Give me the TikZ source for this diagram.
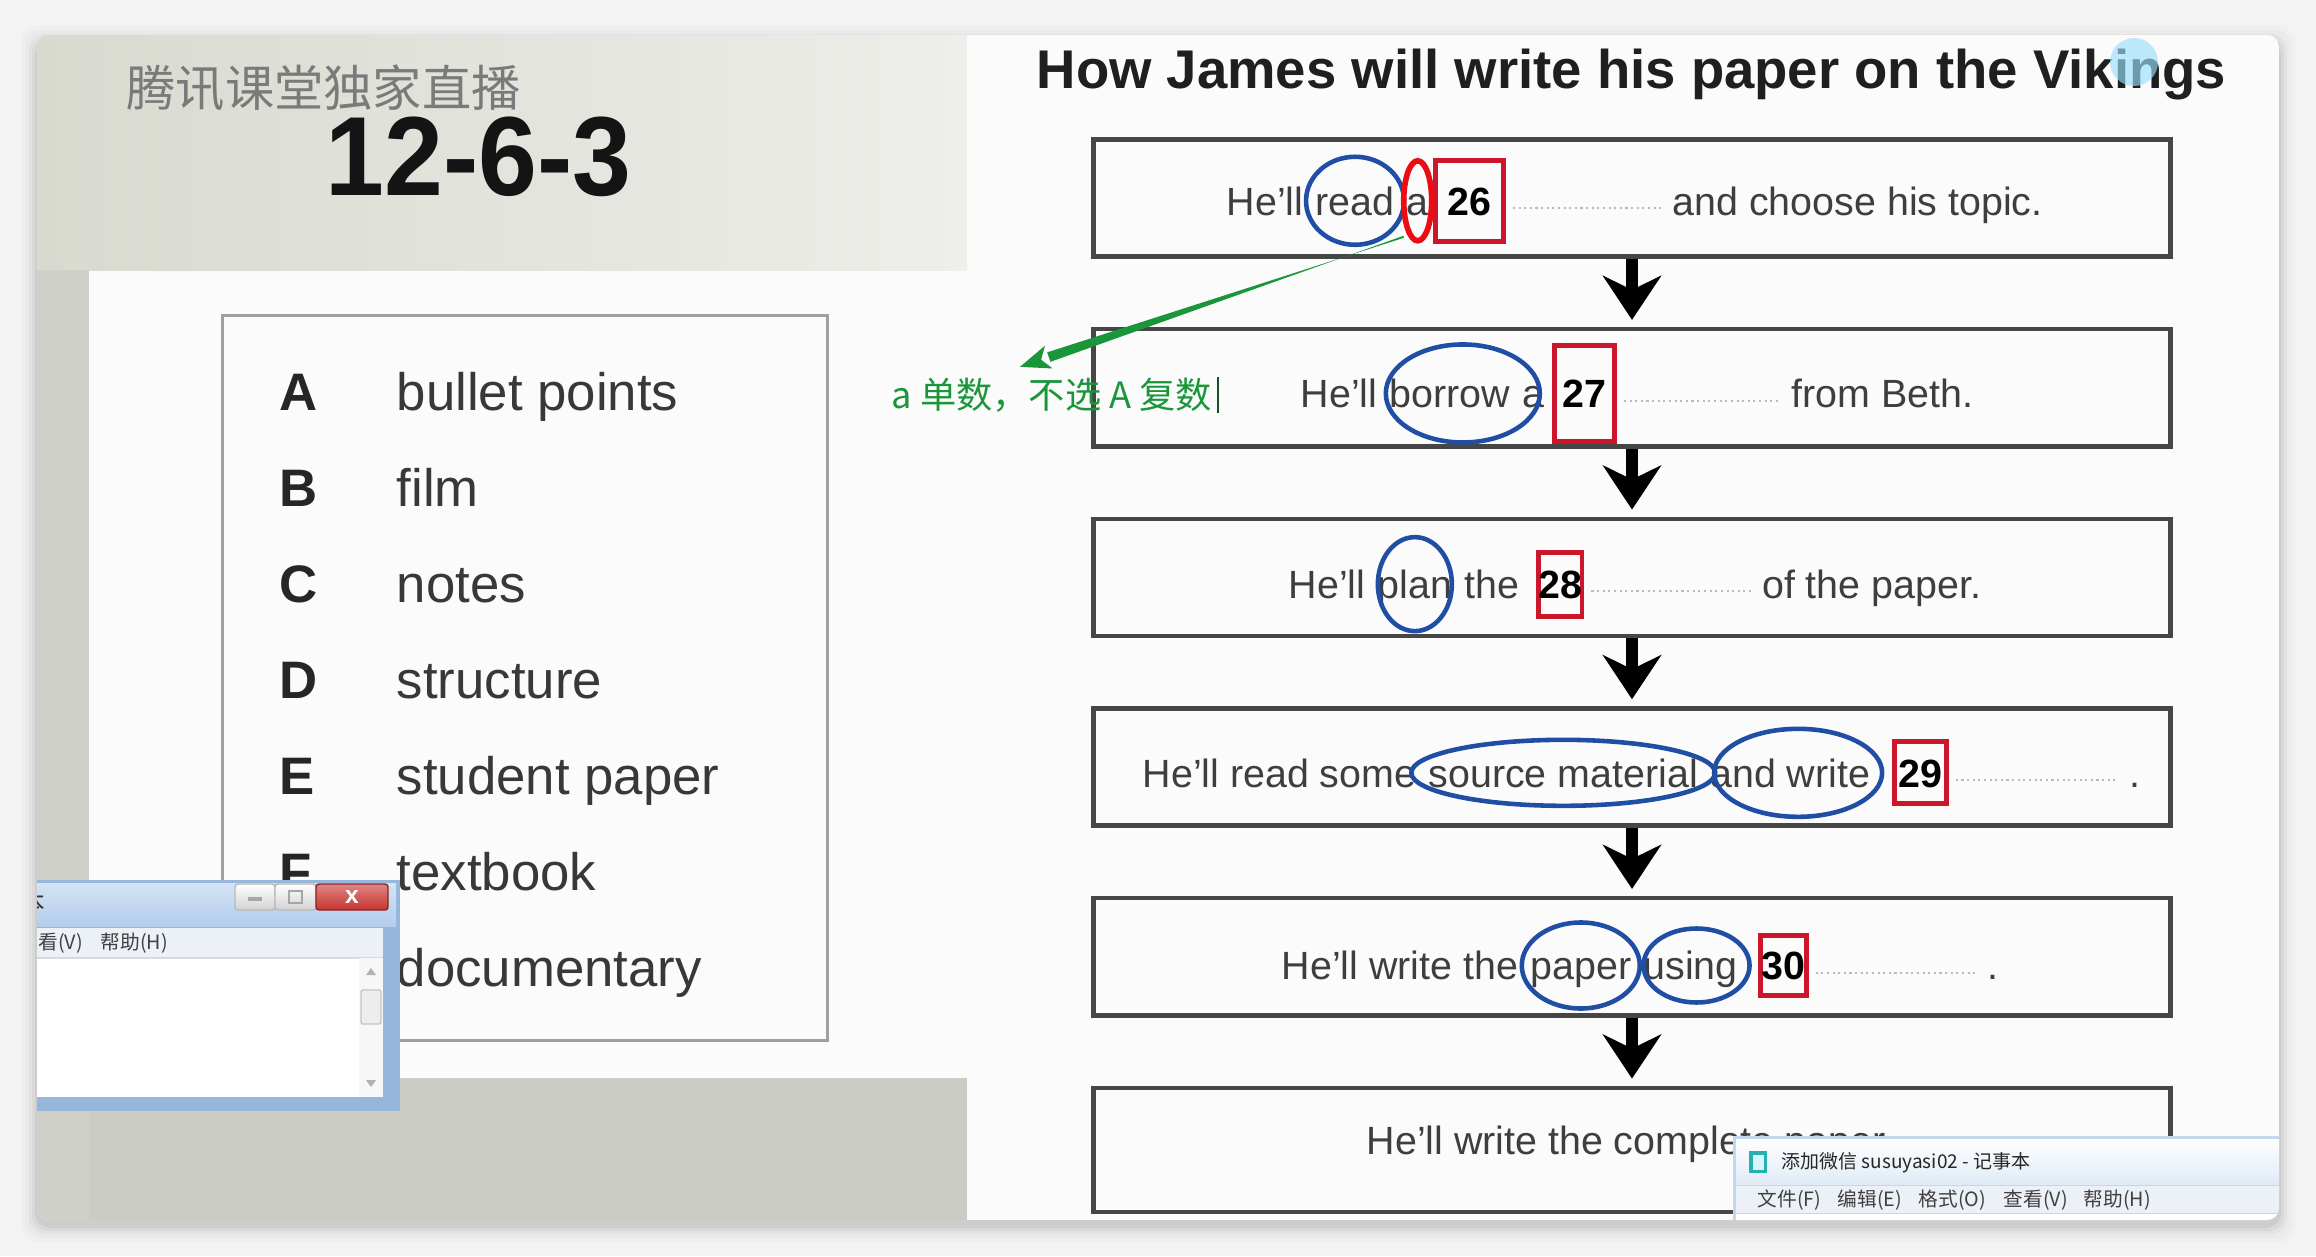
\documentclass[tikz,border=0pt]{standalone}
\usepackage{fontspec}
\setmainfont{Liberation Sans}
\newfontfamily\cjk{Noto Sans CJK SC}
\usetikzlibrary{arrows.meta,calc,positioning}

\definecolor{pagebg}{RGB}{243,243,243}
\definecolor{slidebg}{RGB}{251,251,252}
\definecolor{videogray}{RGB}{216,217,207}
\definecolor{videolight}{RGB}{238,238,234}
\definecolor{inkgray}{RGB}{62,62,62}
\definecolor{boxline}{RGB}{70,70,70}
\definecolor{ringblue}{RGB}{32,78,165}
\definecolor{markred}{RGB}{204,22,44}
\definecolor{brightred}{RGB}{235,12,20}
\definecolor{notegreen}{RGB}{26,150,58}
\definecolor{winblue}{RGB}{178,205,236}
\definecolor{winedge}{RGB}{150,182,220}
\definecolor{closered}{RGB}{200,52,48}
\definecolor{menubg}{RGB}{236,241,248}

\newcommand\flowfont{\fontsize{11.2}{13}\selectfont}
\newcommand\choicefont{\fontsize{15}{18}\selectfont}

\begin{document}
\begin{tikzpicture}[
    x=0.01cm, y=-0.01cm,
    flowbox/.style={draw=boxline, line width=1.3pt, minimum width=10.76cm,
        minimum height=1.17cm, inner sep=0pt},
    words/.style={inner sep=0pt, text height=8.1pt, text depth=0pt, text=inkgray, font=\flowfont},
    num/.style={draw=markred, line width=1.4pt, inner sep=0pt, text height=8.1pt,
        text depth=0pt, text=black, font=\flowfont\bfseries},
    ring/.style={draw=ringblue, line width=1.3pt},
    redring/.style={draw=brightred, line width=1.6pt},
    blank/.style={draw=gray!55, line width=0.6pt, densely dotted},
    flowarrow/.style={-{Stealth[length=0.44cm, width=0.58cm, inset=0.14cm]},
        line width=0.12cm, shorten >=0.07cm},
    letter/.style={anchor=base west, inner sep=0pt, font=\choicefont\bfseries, text=black!85},
    choice/.style={anchor=base west, inner sep=0pt, font=\choicefont, text=black!78},
    note/.style={inner sep=0pt, text=notegreen, font=\cjk\fontsize{10.3}{12}\selectfont},
    menutext/.style={inner sep=0pt, anchor=west, font=\cjk\fontsize{5.6}{7}\selectfont, text=black!75}
]

\useasboundingbox[fill=pagebg] (0,0) rectangle (2316,1256);

% soft shadow of the screenshot
\foreach \d/\o in {16/0.015, 12/0.02, 8/0.03, 5/0.04, 2/0.05}
    \fill[black, opacity=\o, rounded corners=0.16cm] ({37-\d},{42-\d}) rectangle ({2279+\d},{1226+\d});

\begin{scope}
\clip[rounded corners=0.12cm] (37,35) rectangle (2279,1220);
\fill[slidebg] (37,35) rectangle (2279,1220);
\shade[left color=videogray, right color=videolight] (37,35) rectangle (967,270);
\fill[videogray!96!black] (37,270) rectangle (89,1220);
\fill[videogray!94!black] (89,1078) rectangle (967,1220);

% left slide
\node[anchor=base west, inner sep=0pt, text=black!52, font=\cjk\fontsize{14}{16}\selectfont]
    (brand) at (126,106) {腾讯课堂独家直播};
\node[anchor=base west, inner sep=0pt, text=black!92, font=\fontsize{32}{36}\selectfont\bfseries]
    (code) at (325,195) {\scalebox{0.94}[1]{12-6-3}};

\node[draw=gray!75, line width=0.9pt, minimum width=6.04cm, minimum height=7.24cm, inner sep=0pt]
    (choices) at (525,678) {};
\node[letter] (ltrA) at (279,410) {A};
\node[choice] (optA) at (396,410) {bullet points};
\node[letter] (ltrB) at (279,506) {B};
\node[choice] (optB) at (396,506) {film};
\node[letter] (ltrC) at (279,602) {C};
\node[choice] (optC) at (396,602) {notes};
\node[letter] (ltrD) at (279,698) {D};
\node[choice] (optD) at (396,698) {structure};
\node[letter] (ltrE) at (279,794) {E};
\node[choice] (optE) at (396,794) {student paper};
\node[letter] (ltrF) at (279,890) {F};
\node[choice] (optF) at (396,890) {textbook};
\node[letter] (ltrG) at (279,986) {G};
\node[choice] (optG) at (396,986) {documentary};

% right slide
\node[anchor=base west, inner sep=0pt, text=black!88, font=\fontsize{15.5}{18}\selectfont\bfseries]
    (title) at (1036,88) {How James will write his paper on the Vikings};
\fill[cyan!40!white, opacity=0.65] (2134,62) circle [radius=24];

\node[flowbox] (step1) at (1632,198) {};
\node[flowbox, below=0.68cm of step1] (step2) {};
\node[flowbox, below=0.68cm of step2] (step3) {};
\node[flowbox, below=0.68cm of step3] (step4) {};
\node[flowbox, below=0.68cm of step4] (step5) {};
\node[flowbox, below=0.68cm of step5, minimum height=1.24cm] (step6) {};

\draw[flowarrow] (step1) -- (step2);
\draw[flowarrow] (step2) -- (step3);
\draw[flowarrow] (step3) -- (step4);
\draw[flowarrow] (step4) -- (step5);
\draw[flowarrow] (step5) -- (step6);

% sentences
\node[words, anchor=base west] (s1he) at ($(step1.center)+(-406,17)$) {He'll};
\node[words, base right=3.1pt of s1he] (s1read) {read};
\node[words, base right=3.1pt of s1read] (s1a) {a};
\node[num, base right=1pt of s1a, minimum width=0.68cm, minimum height=0.81cm] (n26) {26};
\node[words, base right=1.66cm of n26] (s1end) {and choose his topic.};

\node[words, anchor=base west] (s2he) at ($(step2.center)+(-332,20)$) {He'll};
\node[words, base right=3.1pt of s2he] (s2borrow) {borrow};
\node[words, base right=3.1pt of s2borrow] (s2a) {a};
\node[num, base right=2pt of s2a, minimum width=0.60cm, minimum height=0.96cm] (n27) {27};
\node[words, base right=1.74cm of n27] (s2end) {from Beth.};

\node[words, anchor=base west] (s3he) at ($(step3.center)+(-344,21)$) {He'll};
\node[words, base right=3.1pt of s3he] (s3plan) {plan};
\node[words, base right=3.1pt of s3plan] (s3the) {the};
\node[num, base right=4.5pt of s3the, minimum width=0.43cm, minimum height=0.64cm] (n28) {28};
\node[words, base right=1.77cm of n28] (s3end) {of the paper.};

\node[words, anchor=base west] (s4he) at ($(step4.center)+(-490,20)$) {He'll read some};
\node[words, base right=3.1pt of s4he] (s4source) {source material};
\node[words, base right=3.1pt of s4source] (s4write) {and write};
\node[num, base right=6pt of s4write, minimum width=0.52cm, minimum height=0.62cm] (n29) {29};
\node[words, base right=1.80cm of n29] (s4end) {.};

\node[words, anchor=base west] (s5he) at ($(step5.center)+(-351,23)$) {He'll write the};
\node[words, base right=3.1pt of s5he] (s5paper) {paper};
\node[words, base right=3.1pt of s5paper] (s5using) {using};
\node[num, base right=5.5pt of s5using, minimum width=0.46cm, minimum height=0.60cm] (n30) {30};
\node[words, base right=1.78cm of n30] (s5end) {.};

\node[words, anchor=base west] (s6he) at ($(step6.center)+(-266,5)$) {He'll write the complete paper.};

\draw[blank] ([xshift=2pt, yshift=2pt]n26.base east) -- ([xshift=-3pt, yshift=2pt]s1end.base west);
\draw[blank] ([xshift=2pt, yshift=2pt]n27.base east) -- ([xshift=-3pt, yshift=2pt]s2end.base west);
\draw[blank] ([xshift=2pt, yshift=2pt]n28.base east) -- ([xshift=-3pt, yshift=2pt]s3end.base west);
\draw[blank] ([xshift=2pt, yshift=2pt]n29.base east) -- ([xshift=-3pt, yshift=2pt]s4end.base west);
\draw[blank] ([xshift=2pt, yshift=2pt]n30.base east) -- ([xshift=-3pt, yshift=2pt]s5end.base west);

% teacher's marks
\draw[ring] (s1read.center) ellipse [x radius=49, y radius=44];
\draw[redring] (s1a.center) ellipse [x radius=14, y radius=40];
\draw[ring] ([xshift=0.13cm]s2borrow.center) ellipse [x radius=77, y radius=49];
\draw[ring] (s3plan.center) ellipse [x radius=37, y radius=47];
\draw[ring] (s4source.center) ellipse [x radius=152, y radius=33];
\draw[ring] ([xshift=0.08cm]s4write.center) ellipse [x radius=84, y radius=44];
\draw[ring] (s5paper.center) ellipse [x radius=59, y radius=43];
\draw[ring] ([xshift=0.06cm]s5using.center) ellipse [x radius=53, y radius=37];

\node[note, anchor=base west] (note) at (891,408) {a 单数，不选 A 复数};
\draw[notegreen!55!black, line width=0.5pt] ([xshift=1.5pt]note.north east) -- ([xshift=1.5pt]note.south east);

\coordinate (gfrom) at ($(s1a.center)+(-14,36)$);
\coordinate (gto) at ($(note.north west)+(129,-10)$);
\coordinate (gback) at ($(gto)!0.075!(gfrom)$);
\fill[notegreen] ($(gfrom)!0.01cm!90:(gto)$) -- ($(gback)!0.05cm!90:(gfrom)$)
    -- ($(gback)!0.05cm!-90:(gfrom)$) -- ($(gfrom)!0.01cm!-90:(gto)$) -- cycle;
\fill[notegreen] (gto) -- ($(gback)!0.12cm!90:(gfrom)$) -- ($(gto)!0.055!(gfrom)$)
    -- ($(gback)!0.12cm!-90:(gfrom)$) -- cycle;

% notepad window, lower left
\fill[winedge] (30,880) rectangle (400,1111);
\shade[top color=winblue!55!white, bottom color=winblue] (30,883) rectangle (396,926);
\shade[top color=white, bottom color=gray!35, draw=gray!55, rounded corners=0.03cm] (235,884) rectangle (275,910);
\shade[top color=white, bottom color=gray!35, draw=gray!55, rounded corners=0.03cm] (275,884) rectangle (316,910);
\shade[top color=closered!60!white, bottom color=closered, draw=closered!70!black, rounded corners=0.03cm]
    (316,884) rectangle (388,910);
\draw[gray!70, line width=1pt] (248,899) -- (262,899);
\draw[gray!70, line width=0.6pt] (289,891) rectangle (302,903);
\node[inner sep=0pt, text=white, font=\bfseries\fontsize{7}{8}\selectfont] (lwClose) at (352,897) {x};
\node[inner sep=0pt, anchor=east, text=black!80, font=\cjk\fontsize{7}{8}\selectfont] (lwTitle) at (46,902) {记事本};
\fill[menubg] (30,928) rectangle (383,957);
\node[menutext] (lwView) at (18,943) {查看(V)};
\node[menutext] (lwHelp) at (100,943) {帮助(H)};
\fill[white] (30,958) rectangle (383,1097);
\draw[gray!30] (30,958) -- (383,958);
\fill[gray!6] (359,958) rectangle (383,1097);
\draw[gray!45, fill=gray!14, rounded corners=0.02cm] (361,990) rectangle (381,1024);
\fill[gray!60] (371,968) -- (366,975) -- (376,975) -- cycle;
\fill[gray!60] (371,1087) -- (366,1080) -- (376,1080) -- cycle;

% notepad window, lower right
\fill[winedge!55!white] (1733,1136) rectangle (2290,1230);
\shade[top color=white, bottom color=winblue!40!white] (1736,1139) rectangle (2290,1184);
\fill[teal!45!cyan!70!gray] (1749,1151) rectangle (1767,1173);
\fill[white!85!cyan] (1753,1155) rectangle (1764,1170);
\node[menutext, text=black!85, font=\cjk\fontsize{5.4}{6.5}\selectfont] (rwTitle) at (1781,1163) {添加微信 susuyasi02 - 记事本};
\fill[menubg] (1736,1186) rectangle (2290,1213);
\node[menutext] (rwFile) at (1757,1200) {文件(F)};
\node[menutext] (rwEdit) at (1837,1200) {编辑(E)};
\node[menutext] (rwFormat) at (1918,1200) {格式(O)};
\node[menutext] (rwView) at (2003,1200) {查看(V)};
\node[menutext] (rwHelp) at (2083,1200) {帮助(H)};
\fill[white] (1736,1214) rectangle (2290,1230);
\end{scope}

\end{tikzpicture}
\end{document}
